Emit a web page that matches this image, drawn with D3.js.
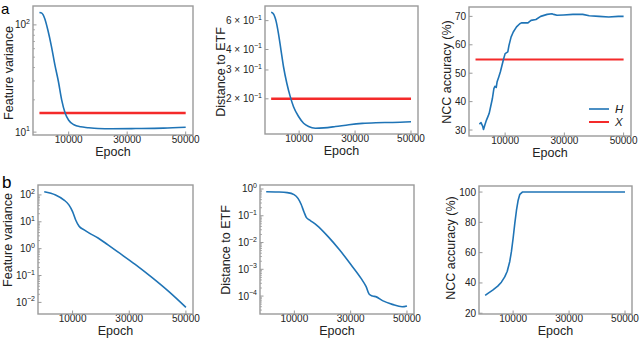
<!DOCTYPE html>
<html>
<head>
<meta charset="utf-8">
<script src="https://cdn.jsdelivr.net/npm/d3@7"></script>
<style>
  body { margin: 0; background: #fff; }
  text { font-family: "Liberation Sans", Arial, sans-serif; }
</style>
</head>
<body>
<svg id="fig"></svg>
<script>
// 1) Data ------------------------------------------------------------
const epochA1 = [0, 800, 1800, 2900, 4100, 5300, 6500, 7600, 8800, 10000, 11800, 14100, 16500, 20000, 24700, 32900, 42400, 50000];
const varA1 = [130.6, 128.8, 114.8, 89.1, 63.1, 42.2, 29.5, 20.0, 15.0, 12.9, 11.7, 11.2, 11.0, 10.8, 10.75, 10.8, 10.9, 11.1];
const varA1X = 15.1;

const epochA2 = [0, 840, 1800, 2600, 3500, 4400, 5600, 6800, 8000, 9800, 11600, 13400, 15800, 18800, 23000, 27800, 32600, 37400, 43400, 50000];
const etfA2 = [0.674, 0.659, 0.592, 0.502, 0.398, 0.315, 0.249, 0.207, 0.179, 0.156, 0.142, 0.1355, 0.1324, 0.133, 0.1355, 0.139, 0.1416, 0.1429, 0.1435, 0.1449];
const etfA2X = 0.2;

const epochA3 = [1300, 1850, 2400, 2700, 3150, 3700, 4250, 4600, 5100, 5700, 6200, 6550, 7000, 7300, 7850, 8400, 8950, 9500, 10000, 10900, 11300, 12000, 12750, 13850, 14950, 15500, 17700, 18750, 20400, 22000, 24200, 25800, 26400, 27500, 29700, 32900, 36200, 38400, 41700, 45000, 48200, 50000];
const accA3 = [32.1, 32.6, 31.4, 30.2, 31.8, 33.5, 34.9, 35.8, 38.2, 41.1, 44.6, 45.4, 45.0, 47.0, 48.7, 50.5, 52.8, 55.1, 56.9, 57.5, 59.8, 62.7, 64.5, 66.3, 67.4, 67.7, 67.7, 68.6, 68.9, 70.0, 70.7, 70.9, 70.7, 70.4, 70.5, 70.7, 70.7, 70.2, 70.0, 69.8, 70.0, 70.0];
const accA3X = 54.8;

const epochB1 = [0, 4000, 7000, 8700, 10000, 11100, 12300, 14100, 15900, 19000, 22500, 26100, 32100, 38100, 44100, 50000];
const varB1 = [132, 100, 64.6, 42.7, 24, 11.7, 6.8, 5.0, 3.8, 2.5, 1.38, 0.74, 0.26, 0.083, 0.0245, 0.0065];

const epochB2 = [0, 4000, 7500, 9900, 11300, 12400, 13400, 14300, 15700, 18000, 22000, 26100, 30200, 33700, 35500, 36600, 37800, 38900, 41300, 44800, 48300, 50000];
const etfB2 = [0.794, 0.776, 0.73, 0.617, 0.447, 0.269, 0.141, 0.085, 0.066, 0.0437, 0.0166, 0.00525, 0.00145, 0.000457, 0.000224, 0.000117, 0.0001, 0.0000955, 0.0000676, 0.000049, 0.0000398, 0.0000427];

const epochB3 = [0, 1000, 2700, 4500, 5800, 7000, 7900, 8800, 9400, 10000, 10600, 11200, 11800, 12400, 13300, 50000];
const accB3 = [31.8, 33.1, 35.3, 37.9, 40.5, 44.0, 47.7, 54.2, 60.8, 69.5, 79.3, 88.0, 94.6, 98.5, 100, 100];

const xTicks = [10000, 30000, 50000];
const legendLabels = ['H', 'X'];

// 2) Figure -----------------------------------------------------------
const width = 640, height = 341;
const blue = '#1f74b6', red = '#f42a2a', frame = '#9a9a9a', ink = '#222';
const svg = d3.select('#fig').attr('width', width).attr('height', height);

// log tick label: mantissa text + superscript exponent
function logLabel(sel, mant, exp) {
  sel.append('tspan').text(mant ? mant + ' \u00d7 10' : '10');
  sel.append('tspan').attr('dy', -4.5).attr('font-size', 7).text(exp < 0 ? '\u2212' + (-exp) : exp);
}

function drawPanel(p) {
  const g = svg.append('g');
  const x = d3.scaleLinear().domain([-2200, 52500]).range([p.box[0], p.box[1]]);
  const y = (p.log ? d3.scaleLog() : d3.scaleLinear()).domain(p.yDomain).range([p.box[3], p.box[2]]);

  // minor log ticks
  if (p.minor) {
    g.selectAll('.minor').data(p.minor).enter().append('line')
      .attr('x1', p.box[0]).attr('x2', p.box[0] + 2)
      .attr('y1', d => y(d)).attr('y2', d => y(d))
      .attr('stroke', frame).attr('stroke-width', 0.8);
  }
  // major y ticks
  g.selectAll('.ytick').data(p.yTicks).enter().append('line')
    .attr('x1', p.box[0]).attr('x2', p.box[0] + 3.5)
    .attr('y1', d => y(d.v)).attr('y2', d => y(d.v))
    .attr('stroke', frame).attr('stroke-width', 1);
  g.selectAll('.ylab').data(p.yTicks).enter().append('text')
    .attr('x', p.box[0] - 3).attr('y', d => y(d.v) + 3.5)
    .attr('text-anchor', 'end').attr('font-size', 10).attr('fill', ink)
    .each(function (d) {
      const t = d3.select(this);
      if (p.log) logLabel(t, d.m, d.e); else t.text(d.v);
    });

  // x ticks
  g.selectAll('.xtick').data(xTicks).enter().append('line')
    .attr('x1', d => x(d)).attr('x2', d => x(d))
    .attr('y1', p.box[3]).attr('y2', p.box[3] - 3.5)
    .attr('stroke', frame).attr('stroke-width', 1);
  g.selectAll('.xlab').data(xTicks).enter().append('text')
    .attr('x', d => x(d)).attr('y', p.box[3] + 8)
    .attr('text-anchor', 'middle').attr('font-size', 10).attr('fill', ink)
    .text(d => d);

  // reference line
  if (p.refY !== undefined) {
    g.append('path')
      .datum([0, 50000])
      .attr('d', d3.line().x(d => x(d)).y(() => y(p.refY)))
      .attr('fill', 'none').attr('stroke', red).attr('stroke-width', p.refW || 2.5);
  }

  // data line
  g.append('path')
    .datum(d3.zip(p.xs, p.ys))
    .attr('d', d3.line().x(d => x(d[0])).y(d => y(d[1])).curve(p.curve || d3.curveMonotoneX))
    .attr('fill', 'none').attr('stroke', blue).attr('stroke-width', 1.6)
    .attr('stroke-linejoin', 'round');

  // frame
  g.append('rect')
    .attr('x', p.box[0]).attr('y', p.box[2])
    .attr('width', p.box[1] - p.box[0]).attr('height', p.box[3] - p.box[2])
    .attr('fill', 'none').attr('stroke', frame).attr('stroke-width', 1.4);

  // axis titles
  g.append('text')
    .attr('x', (p.box[0] + p.box[1]) / 2).attr('y', p.box[3] + 21)
    .attr('text-anchor', 'middle').attr('font-size', 12.5).attr('fill', ink)
    .text('Epoch');
  g.append('text')
    .attr('transform', `translate(${p.yTitleX},${p.yTitleY}) rotate(-90)`)
    .attr('text-anchor', 'middle').attr('font-size', 12.5).attr('fill', ink)
    .text(p.yTitle);

  return { x, y, g };
}

// 3) Panels -----------------------------------------------------------
const decade = (lo, hi) => d3.range(lo, hi + 1).map(e => ({ v: Math.pow(10, e), e }));
const minorTicks = (lo, hi) => d3.range(lo, hi).flatMap(e => d3.range(2, 10).map(k => k * Math.pow(10, e)));

drawPanel({
  box: [33, 193, 6, 135], log: true, yDomain: [9.4, 150],
  yTicks: decade(1, 2), minor: minorTicks(1, 2),
  xs: epochA1, ys: varA1, refY: varA1X,
  yTitle: 'Feature variance', yTitleX: 13, yTitleY: 73
});

drawPanel({
  box: [265, 418, 6, 134], log: true, yDomain: [0.122, 0.737],
  yTicks: [{ v: 0.2, m: 2, e: -1 }, { v: 0.3, m: 3, e: -1 }, { v: 0.4, m: 4, e: -1 }, { v: 0.6, m: 6, e: -1 }],
  xs: epochA2, ys: etfA2, refY: etfA2X,
  yTitle: 'Distance to ETF', yTitleX: 225, yTitleY: 72
});

drawPanel({
  box: [469, 631, 7, 136], log: false, yDomain: [27.9, 73.3],
  yTicks: d3.range(30, 71, 10).map(v => ({ v })),
  xs: epochA3, ys: accA3, refY: accA3X, refW: 2, curve: d3.curveLinear,
  yTitle: 'NCC accuracy (%)', yTitleX: 451, yTitleY: 72
});

drawPanel({
  box: [38, 193, 185, 314], log: true, yDomain: [0.0037, 234],
  yTicks: decade(-2, 2), minor: minorTicks(-2, 2),
  xs: epochB1, ys: varB1,
  yTitle: 'Feature variance', yTitleX: 12, yTitleY: 240
});

drawPanel({
  box: [260, 414, 185, 314], log: true, yDomain: [0.0000214, 1.41],
  yTicks: decade(-4, 0), minor: minorTicks(-5, 0).filter(v => v > 0.0000214),
  xs: epochB2, ys: etfB2,
  yTitle: 'Distance to ETF', yTitleX: 230, yTitleY: 250
});

drawPanel({
  box: [479, 632, 186, 314], log: false, yDomain: [19.5, 104],
  yTicks: d3.range(20, 101, 20).map(v => ({ v })),
  xs: epochB3, ys: accB3, curve: d3.curveLinear,
  yTitle: 'NCC accuracy (%)', yTitleX: 455, yTitleY: 248
});

// 4) Legend (panel a, right) -------------------------------------------
const legend = svg.append('g');
legend.selectAll('line').data(legendLabels).enter().append('line')
  .attr('x1', 589).attr('x2', 609)
  .attr('y1', (d, i) => 109 + i * 13).attr('y2', (d, i) => 109 + i * 13)
  .attr('stroke', (d, i) => i ? red : blue).attr('stroke-width', (d, i) => i ? 2 : 1.6);
legend.selectAll('text').data(legendLabels).enter().append('text')
  .attr('x', 615).attr('y', (d, i) => 113 + i * 13)
  .attr('font-size', 11.5).attr('font-style', 'italic').attr('fill', ink)
  .text(d => d);

// 5) Panel letters -----------------------------------------------------
svg.append('text').attr('x', 1).attr('y', 14).attr('font-size', 15).attr('fill', '#000').text('a');
svg.append('text').attr('x', 2).attr('y', 188).attr('font-size', 17).attr('fill', '#000').text('b');
</script>
</body>
</html>
